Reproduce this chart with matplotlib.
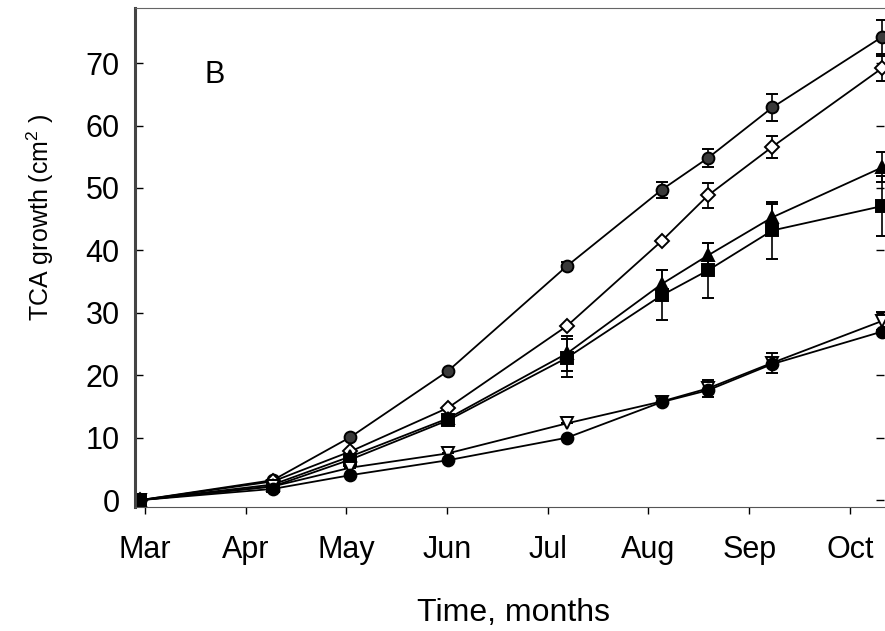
import numpy as np
import matplotlib
matplotlib.use('Agg')
from matplotlib import pyplot as plt

plt.rcParams['font.family'] = ['Liberation Sans', 'DejaVu Sans']
plt.rcParams['mathtext.fontset'] = 'custom'
plt.rcParams['mathtext.rm'] = 'Liberation Sans'
plt.rcParams['font.size'] = 22

# sampling dates, in months after the March tick
sample_month = [-0.05, 1.27, 2.04, 3.01, 4.19, 5.13, 5.59, 6.23, 7.32]
month_labels = ['Mar', 'Apr', 'May', 'Jun', 'Jul', 'Aug', 'Sep', 'Oct']

top_dark = [0, 3.2, 10.1, 20.7, 37.5, 49.7, 54.8, 62.9, 74.2]
top_dark_err = [0, 0, 0, 0, 0.6, 1.3, 1.5, 2.1, 2.7]
open_diamond = [0, 3.0, 7.8, 14.8, 27.9, 41.5, 48.8, 56.6, 69.2]
open_diamond_err = [0, 0, 0, 0, 0, 0, 2.0, 1.8, 2.0]
filled_tri = [0, 2.5, 7.0, 13.1, 23.5, 34.6, 39.2, 45.3, 53.3]
filled_tri_err = [0, 0, 0, 0, 2.8, 2.3, 2.0, 2.2, 2.4]
filled_sq = [0, 2.2, 6.5, 12.8, 22.8, 32.8, 36.8, 43.2, 47.1]
filled_sq_err = [0, 0, 0, 0, 3.0, 4.0, 4.4, 4.6, 4.8]
open_vtri = [0, 2.2, 5.2, 7.5, 12.3, 15.8, 17.9, 22.0, 28.7]
open_vtri_err = [0, 0, 0, 0, 0, 0, 1.3, 1.6, 1.5]
filled_circ = [0, 1.8, 4.0, 6.4, 10.0, 15.7, 17.6, 21.8, 27.0]

series = [
    (top_dark, top_dark_err, 'o', '#3a3a3a'),
    (open_diamond, open_diamond_err, 'D', 'white'),
    (filled_tri, filled_tri_err, '^', 'black'),
    (filled_sq, filled_sq_err, 's', 'black'),
    (open_vtri, open_vtri_err, 'v', 'white'),
    (filled_circ, None, 'o', 'black'),
]

fig = plt.figure(figsize=(8.85, 6.31), dpi=100)
ax = fig.add_axes([0.1525, 0.1965, 0.8465, 0.7905])

for vals, err, mk, face in series:
    ms = 7.5 if mk == 'D' else 8.5
    ax.errorbar(sample_month, vals, yerr=err, color='black', marker=mk, markersize=ms,
                markerfacecolor=face, markeredgecolor='black', markeredgewidth=1.4,
                linewidth=1.3, elinewidth=1.2, capsize=4.5, capthick=1.2)

ax.set_xlim(-0.1, 7.34)
ax.set_ylim(-1.1, 78.8)
ax.set_xticks(range(len(month_labels)))
ax.set_xticklabels(month_labels)
ax.set_yticks([0, 10, 20, 30, 40, 50, 60, 70])
ax.tick_params(axis='x', direction='out', length=5, width=1, pad=15)
ax.tick_params(axis='y', direction='in', length=6, width=1, pad=11, right=True)

ax.spines['left'].set_linewidth(2.2)
ax.spines['left'].set_color('#444444')
ax.spines['bottom'].set_color('#555555')
ax.spines['top'].set_color('#666666')
ax.spines['right'].set_visible(False)

ax.text(0.107, 0.866, 'B', transform=ax.transAxes, fontsize=22, ha='center', va='center')
ax.set_xlabel('Time, months', fontsize=23)
ax.set_ylabel('TCA growth (cm$^{2}$ )', fontsize=18)
ax.xaxis.set_label_coords(0.505, -0.183)
ax.yaxis.set_label_coords(-0.105, 0.58)

plt.savefig('out.png', dpi=100)
